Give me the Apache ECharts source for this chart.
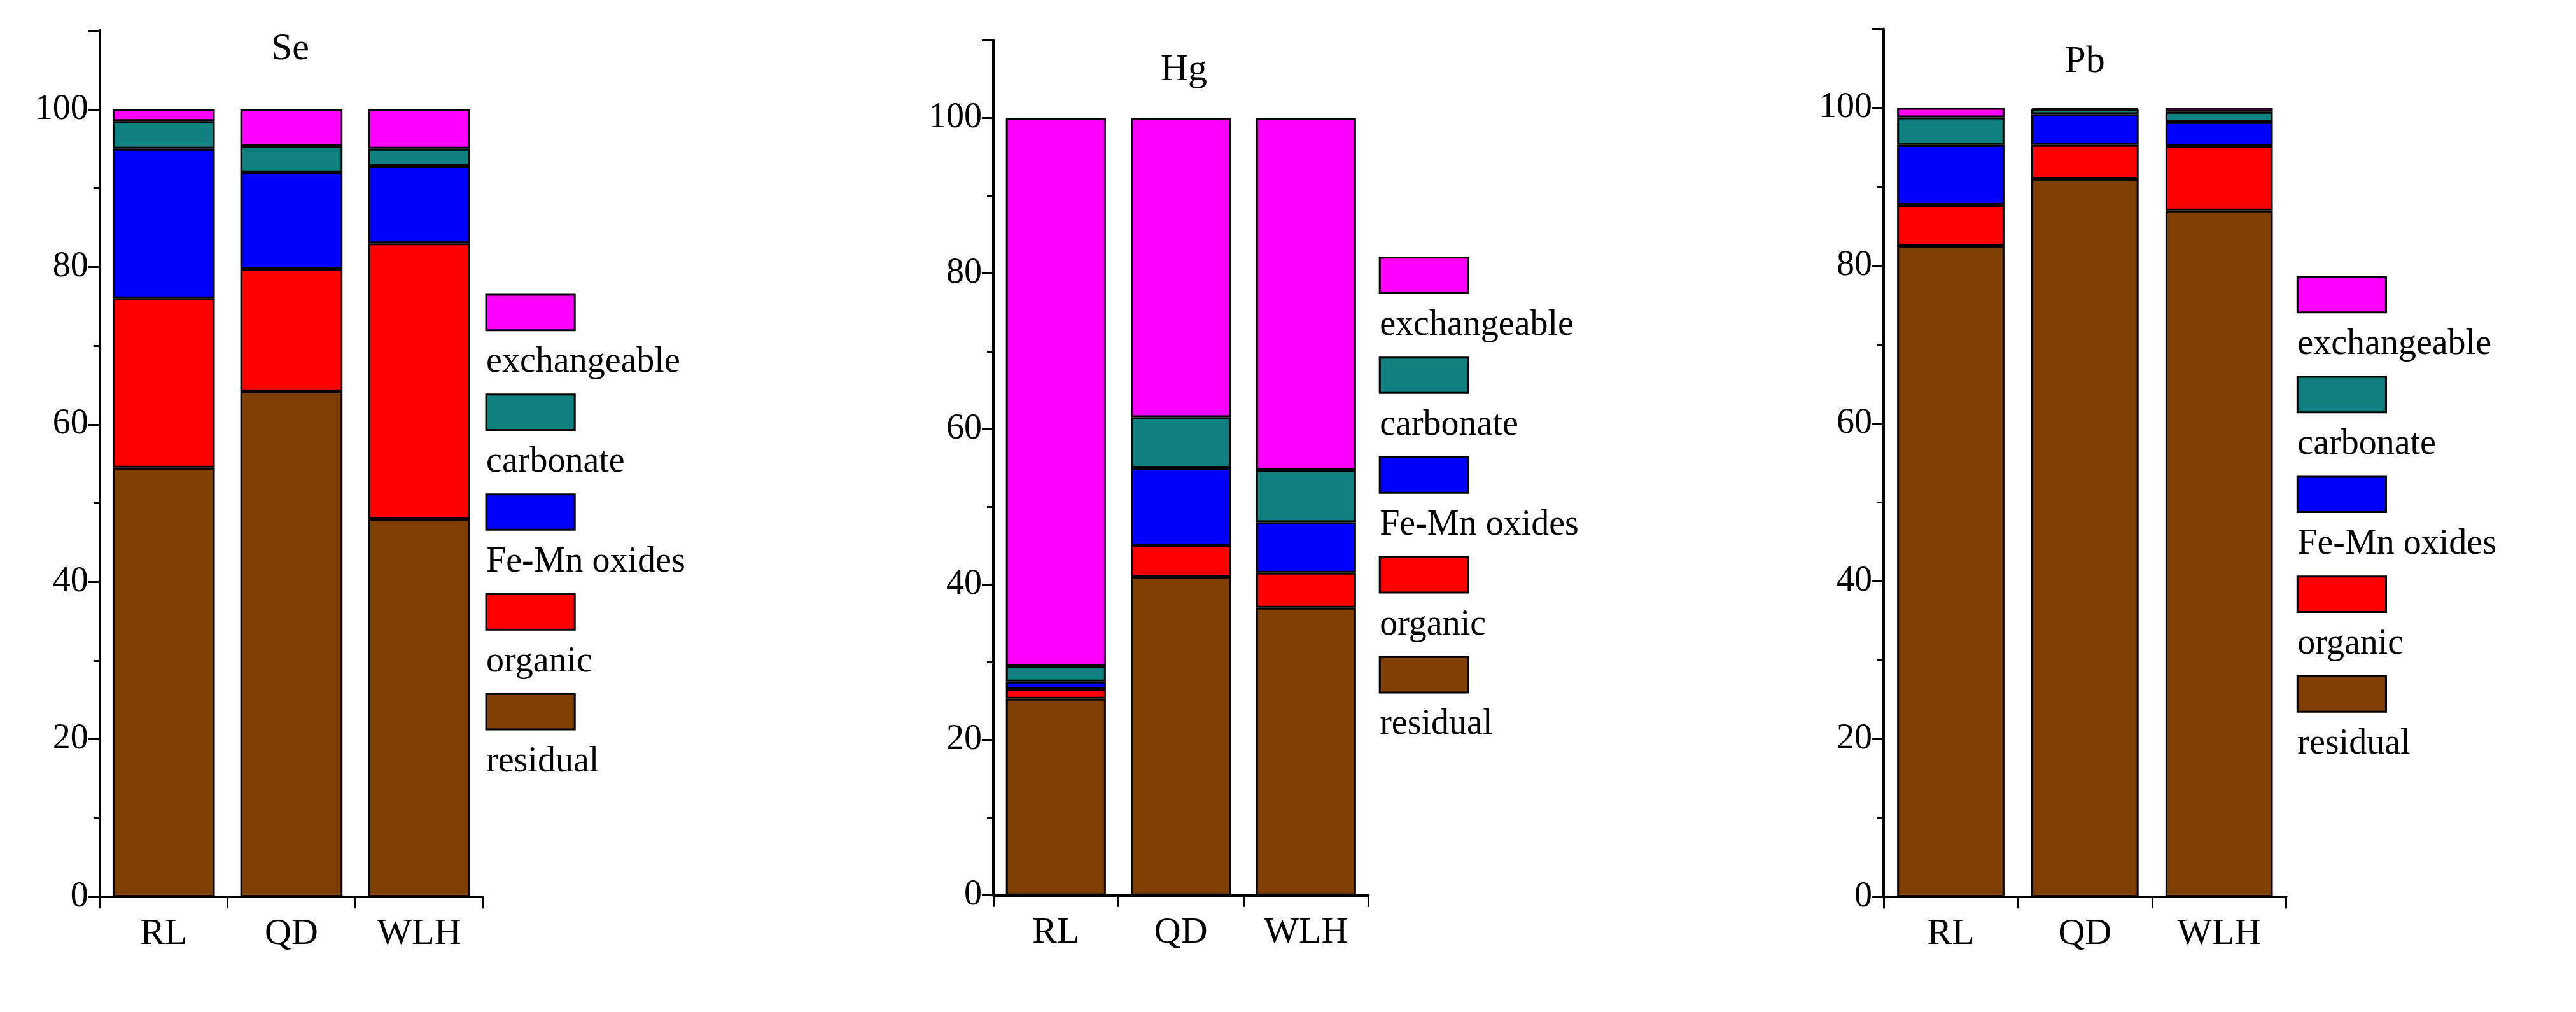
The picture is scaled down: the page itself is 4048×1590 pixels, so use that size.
<!DOCTYPE html>
<html>
<head>
<meta charset="UTF-8">
<script src="https://cdn.jsdelivr.net/npm/echarts@6/dist/echarts.min.js"></script>
<style>html,body{margin:0;background:#fff}#c{width:4048px;height:1590px}</style>
</head>
<body>
<div id="c"></div>
<script>
var sites = ['RL', 'QD', 'WLH'];
var fractions = ['residual', 'organic', 'Fe-Mn oxides', 'carbonate', 'exchangeable'];
var colors = ['#7f3f00', '#ff0000', '#0000ff', '#0f7f7f', '#ff00ff'];
var elements = ['Se', 'Hg', 'Pb'];
// values per element, per fraction (order as fractions), per site
var seData = [[54.5, 64.2, 48], [21.5, 15.5, 35], [19, 12.3, 9.8], [3.5, 3.3, 2.2], [1.5, 4.7, 5]];
var hgData = [[25.3, 41, 37], [1.2, 4, 4.5], [1, 10, 6.5], [2, 6.5, 6.7], [70.5, 38.5, 45.3]];
var pbData = [[82.5, 91, 87], [5.2, 4.3, 8.2], [7.6, 3.9, 3], [3.5, 0.6, 1.3], [1.2, 0.2, 0.5]];
var yTicks = [0, 20, 40, 60, 80, 100];

var S = 2.53;
var allData = [seData, hgData, pbData];
// layout in reference-view units: [axisLeft, axisRight, yTop(110), y0, legendX, legendTop, titleY]
var layout = [
  [62, 300, 19, 557, 302, 183, 32],
  [617, 850, 25, 556, 857, 160, 45],
  [1170, 1420, 18, 557, 1427, 172, 40]
];
var font = 'Liberation Serif';
var grids = [], xAxes = [], yAxes = [], series = [], graphics = [];

layout.forEach(function (L, k) {
  grids.push({left: L[0] * S, width: (L[1] - L[0]) * S, top: L[2] * S, height: (L[3] - L[2]) * S});
  xAxes.push({
    type: 'category', gridIndex: k, data: sites,
    axisLine: {lineStyle: {color: '#000', width: 4}},
    axisTick: {show: true, length: 18, lineStyle: {color: '#000', width: 3}},
    axisLabel: {color: '#000', fontFamily: font, fontSize: 58, margin: 30}
  });
  yAxes.push({
    type: 'value', gridIndex: k, min: 0, max: 110, interval: 20,
    axisLine: {show: true, lineStyle: {color: '#000', width: 4}},
    axisTick: {show: true, length: 18, lineStyle: {color: '#000', width: 3}},
    minorTick: {show: true, splitNumber: 2, length: 10, lineStyle: {color: '#000', width: 3}},
    splitLine: {show: false},
    axisLabel: {color: '#000', fontFamily: font, fontSize: 56, margin: 18,
      formatter: function (v) { return yTicks.indexOf(v) >= 0 ? v : ''; }}
  });
  fractions.forEach(function (f, i) {
    series.push({
      name: f, type: 'bar', stack: 'e' + k, xAxisIndex: k, yAxisIndex: k,
      data: allData[k][i], barWidth: '80%',
      itemStyle: {color: colors[i], borderColor: '#000', borderWidth: 3}
    });
  });
  graphics.push({
    type: 'text', left: (L[0] + L[1]) / 2 * S - 32, top: L[6] * S - 34,
    style: {text: elements[k], font: '60px "' + font + '"', fill: '#000'}
  });
  // legend, top to bottom: exchangeable ... residual
  for (var j = 0; j < fractions.length; j++) {
    var i = fractions.length - 1 - j;
    var top = (L[5] + j * 62) * S;
    graphics.push({
      type: 'rect', shape: {x: L[4] * S, y: top, width: 55 * S, height: 22 * S},
      style: {fill: colors[i], stroke: '#000', lineWidth: 3}
    });
    graphics.push({
      type: 'text', left: L[4] * S, top: top + 31 * S,
      style: {text: fractions[i], font: '56px "' + font + '"', fill: '#000'}
    });
  }
});

var chart = echarts.init(document.getElementById('c'));
chart.setOption({
  animation: false,
  grid: grids, xAxis: xAxes, yAxis: yAxes, series: series, graphic: graphics
});
</script>
</body>
</html>
